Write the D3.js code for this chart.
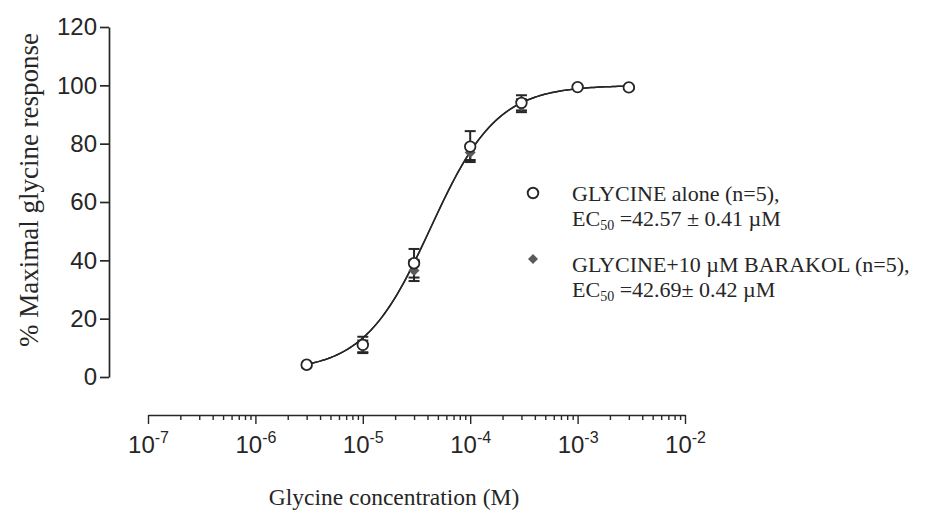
<!DOCTYPE html>
<html>
<head>
<meta charset="utf-8">
<script src="https://cdn.jsdelivr.net/npm/d3@7"></script>
<style>
  body { margin: 0; background: #ffffff; }
  svg { display: block; }
</style>
</head>
<body>
<svg id="chart" width="936" height="517"></svg>
<script>
// Glycine concentration-response data (mean ± SEM, % of maximal response)
const concentrations = [3e-6, 1e-5, 3e-5, 1e-4, 3e-4, 1e-3, 3e-3];
const glycineMean = [4.2, 11, 39, 79, 94, 99.4, 99.3];
const glycineSem  = [0.6, 2.8, 4.9, 5.3, 2.6, 0.6, 0.5];
const barakolMean = [4.0, 10.5, 36.5, 77, 93, 99.2, 99.2];
const barakolSem  = [0.7, 2.0, 3.6, 2.6, 2.2, 0.5, 0.5];

// Fitted sigmoid parameters (EC50 in M)
const ec50Glycine = 42.57e-6;
const ec50Barakol = 42.69e-6;
const hillSlope = 1.4;
const hillBottom = 2;
const hillTop = 100;

const yTicks = [0, 20, 40, 60, 80, 100, 120];
const xDecades = [-7, -6, -5, -4, -3, -2];

const legendLines = [
  { head: "GLYCINE alone (n=5),", rest: " =42.57 \u00B1 0.41 \u00B5M" },
  { head: "GLYCINE+10 \u00B5M BARAKOL (n=5),", rest: " =42.69\u00B1 0.42 \u00B5M" }
];

const ink = "#262626";
const diamondFill = "#5a5a5a";
const sans = "'Liberation Sans', Arial, sans-serif";
const serif = "'Liberation Serif', 'Times New Roman', serif";
const svg = d3.select("#chart");

const x = d3.scaleLog().domain([1e-7, 1e-2]).range([148, 685]);
const y = d3.scaleLinear().domain([0, 120]).range([377, 27]);
const xAxisY = 415;
const yAxisX = 109;

// ---- Y axis ----
const gy = svg.append("g")
  .attr("transform", `translate(${yAxisX},0)`)
  .call(d3.axisLeft(y).tickValues(yTicks).tickSize(9).tickSizeOuter(0).tickPadding(3));
gy.select(".domain").attr("stroke", ink).attr("stroke-width", 1.7);
gy.selectAll(".tick line").attr("stroke", ink).attr("stroke-width", 1.7);
gy.selectAll(".tick text")
  .attr("fill", ink)
  .style("font-family", sans)
  .style("font-size", "24px");

// ---- X axis (log, decade labels with minor ticks) ----
const xTickValues = [];
xDecades.forEach((d, i) => {
  const base = Math.pow(10, d);
  xTickValues.push(base);
  if (i < xDecades.length - 1) for (let m = 2; m <= 9; m++) xTickValues.push(m * base);
});
const isMajor = v => Math.abs(Math.log10(v) - Math.round(Math.log10(v))) < 1e-9;

const gx = svg.append("g")
  .attr("transform", `translate(0,${xAxisY})`)
  .call(d3.axisBottom(x).tickValues(xTickValues).tickSize(8).tickSizeOuter(0).tickFormat(() => ""));
gx.select(".domain").attr("stroke", ink).attr("stroke-width", 1.7);
gx.selectAll(".tick line")
  .attr("stroke", ink)
  .attr("stroke-width", 1.4)
  .attr("y2", d => isMajor(d) ? 9 : 5);

gx.selectAll(".tick")
  .filter(d => isMajor(d))
  .select("text")
  .attr("y", 38)
  .attr("dy", null)
  .attr("fill", ink)
  .style("font-family", sans)
  .style("font-size", "24px")
  .each(function (d) {
    const t = d3.select(this);
    t.text("");
    t.append("tspan").text("10");
    t.append("tspan").attr("dy", -10).style("font-size", "16px").text(Math.round(Math.log10(d)));
  });

// ---- Axis titles ----
svg.append("text")
  .attr("transform", "translate(38,190) rotate(-90)")
  .attr("text-anchor", "middle")
  .attr("fill", ink)
  .style("font-family", serif)
  .style("font-size", "27px")
  .text("% Maximal glycine response");

svg.append("text")
  .attr("x", 394)
  .attr("y", 505)
  .attr("text-anchor", "middle")
  .attr("fill", ink)
  .style("font-family", serif)
  .style("font-size", "23.5px")
  .text("Glycine concentration (M)");

// ---- Fitted curves ----
const hill = ec50 => c => hillBottom + (hillTop - hillBottom) / (1 + Math.pow(ec50 / c, hillSlope));
const lx0 = Math.log10(concentrations[0]);
const lx1 = Math.log10(concentrations[concentrations.length - 1]);
const curveXs = d3.range(0, 121).map(i => Math.pow(10, lx0 + (lx1 - lx0) * i / 120));
const line = d3.line().x(d => x(d[0])).y(d => y(d[1]));

[ec50Barakol, ec50Glycine].forEach(ec => {
  const f = hill(ec);
  svg.append("path")
    .datum(curveXs.map(c => [c, f(c)]))
    .attr("d", line)
    .attr("fill", "none")
    .attr("stroke", ink)
    .attr("stroke-width", 1.5);
});

// ---- Error bars ----
function errorBars(means, sems, width) {
  const g = svg.append("g").attr("stroke", ink).attr("stroke-width", 2);
  concentrations.forEach((c, i) => {
    const cx = x(c);
    const yt = y(means[i] + sems[i]);
    const yb = y(means[i] - sems[i]);
    g.append("line").attr("x1", cx).attr("x2", cx).attr("y1", yt).attr("y2", yb);
    g.append("line").attr("x1", cx - width / 2).attr("x2", cx + width / 2).attr("y1", yt).attr("y2", yt);
    g.append("line").attr("x1", cx - width / 2).attr("x2", cx + width / 2).attr("y1", yb).attr("y2", yb);
  });
}
errorBars(barakolMean, barakolSem, 11);
errorBars(glycineMean, glycineSem, 11);

// ---- Points: BARAKOL diamonds (rotated squares) beneath, GLYCINE circles on top ----
const diamond = d3.symbol().type(d3.symbolSquare).size(60);
svg.append("g").selectAll("path")
  .data(concentrations.map((c, i) => [c, barakolMean[i]]))
  .join("path")
  .attr("d", diamond)
  .attr("transform", d => `translate(${x(d[0])},${y(d[1])}) rotate(45)`)
  .attr("fill", diamondFill);

svg.append("g").selectAll("circle")
  .data(concentrations.map((c, i) => [c, glycineMean[i]]))
  .join("circle")
  .attr("cx", d => x(d[0]))
  .attr("cy", d => y(d[1]))
  .attr("r", 5.3)
  .attr("fill", "#fff")
  .attr("stroke", ink)
  .attr("stroke-width", 1.8);

// ---- Legend ----
const legend = svg.append("g").attr("fill", ink)
  .style("font-family", serif)
  .style("font-size", "22px");

legend.append("circle").attr("cx", 533).attr("cy", 193).attr("r", 5.3).attr("fill", "#fff")
  .attr("stroke", ink).attr("stroke-width", 1.9);
legend.append("path").attr("d", d3.symbol().type(d3.symbolSquare).size(50)())
  .attr("transform", "translate(533,259) rotate(45)").attr("fill", diamondFill);

const legendTop = [201, 272];
legendLines.forEach((L, i) => {
  const by = legendTop[i];
  legend.append("text").attr("x", 572).attr("y", by).text(L.head);
  const t = legend.append("text").attr("x", 572).attr("y", by + 25);
  t.append("tspan").text("EC");
  t.append("tspan").attr("dy", 4).style("font-size", "14px").text("50");
  t.append("tspan").attr("dy", -4).text(L.rest);
});
</script>
</body>
</html>
